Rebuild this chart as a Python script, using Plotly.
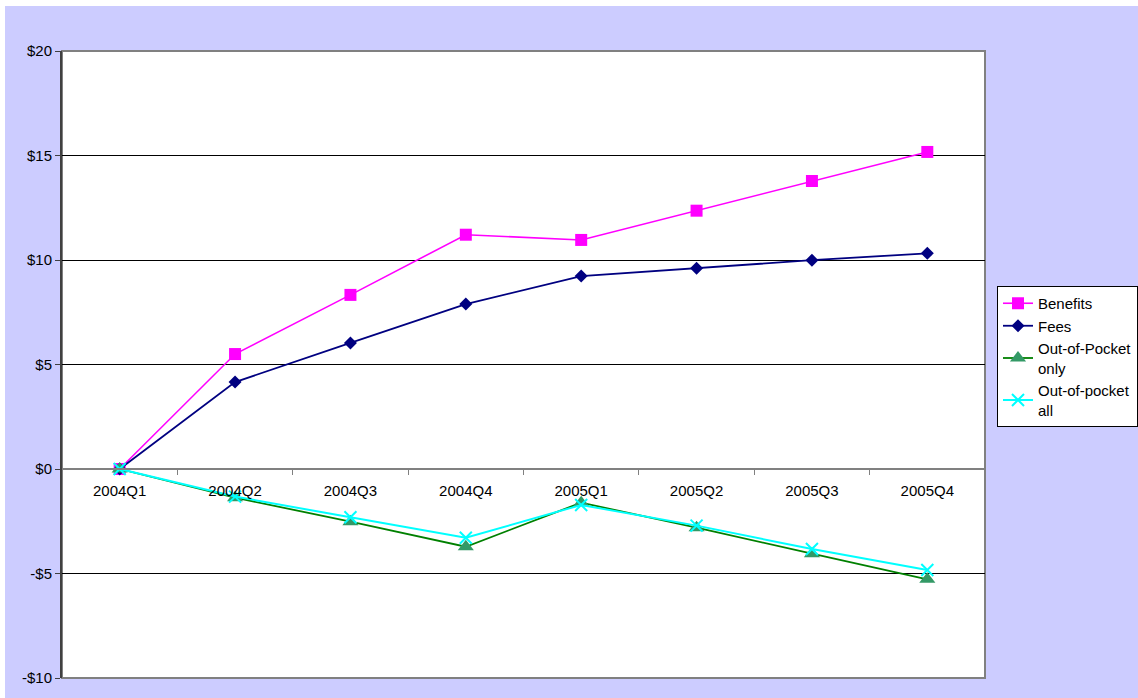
import plotly.graph_objects as go

quarters = ["2004Q1", "2004Q2", "2004Q3", "2004Q4", "2005Q1", "2005Q2", "2005Q3", "2005Q4"]
benefits = [0.0, 5.50, 8.33, 11.21, 10.96, 12.36, 13.78, 15.17]
fees = [0.0, 4.16, 6.03, 7.89, 9.23, 9.60, 9.99, 10.32]
oop_only = [0.0, -1.37, -2.52, -3.72, -1.61, -2.81, -4.05, -5.28]
oop_all = [0.0, -1.32, -2.31, -3.29, -1.72, -2.71, -3.83, -4.83]

y_tickvals = [-10, -5, 0, 5, 10, 15, 20]
y_ticktext = ["-$10", "-$5", "$0", "$5", "$10", "$15", "$20"]

W, H = 1138, 698
L, R, T, B = 62, 985, 51, 678
pw, ph = R - L, B - T


def px(x):
    return (x - L) / pw


def py(y):
    return (B - y) / ph


fig = go.Figure()
fig.add_trace(go.Scatter(x=quarters, y=benefits, name="Benefits", mode="lines+markers",
                         line=dict(color="#FF00FF", width=1.6),
                         marker=dict(symbol="square", size=12, color="#FF00FF")))
fig.add_trace(go.Scatter(x=quarters, y=fees, name="Fees", mode="lines+markers",
                         line=dict(color="#000080", width=1.8),
                         marker=dict(symbol="diamond", size=10, color="#000080")))
fig.add_trace(go.Scatter(x=quarters, y=oop_only, name="Out-of-Pocket<br>only", mode="lines+markers",
                         line=dict(color="#008000", width=1.8),
                         marker=dict(symbol="triangle-up", size=14, color="#339966")))
fig.add_trace(go.Scatter(x=quarters, y=oop_all, name="Out-of-pocket<br>all", mode="lines+markers",
                         line=dict(color="#00FFFF", width=2),
                         marker=dict(symbol="x-thin", size=12, color="#00FFFF",
                                     line=dict(color="#00FFFF", width=2))))

shapes = [
    dict(type="rect", xref="paper", yref="paper", x0=px(5), x1=px(W + 5), y0=py(H + 5), y1=py(6),
         fillcolor="#CCCCFF", line=dict(width=0), layer="below"),
    dict(type="rect", xref="paper", yref="paper", x0=0, x1=1, y0=0, y1=1,
         fillcolor="white", line=dict(color="#808080", width=2), layer="below"),
]
fig.update_layout(
    width=W, height=H,
    margin=dict(l=L, r=W - R, t=T, b=H - B, autoexpand=False),
    paper_bgcolor="white",
    plot_bgcolor="white",
    font=dict(family="Liberation Sans, Arial, sans-serif", size=15, color="black"),
    shapes=shapes,
    showlegend=True,
    legend=dict(x=px(997), y=py(286), xanchor="left", yanchor="top",
                bgcolor="white", bordercolor="black", borderwidth=1,
                font=dict(size=15, color="black"), tracegroupgap=0,
                itemwidth=30),
    xaxis=dict(type="category", range=[-0.5, 7.5], anchor="free", position=py(469),
               showline=True, linecolor="#808080", linewidth=2,
               ticks="outside", tickson="boundaries", ticklen=5, tickcolor="#808080", tickwidth=1,
               ticklabelstandoff=8,
               showgrid=False, zeroline=False, tickfont=dict(size=15)),
    yaxis=dict(range=[-10, 20], tickvals=y_tickvals, ticktext=y_ticktext,
               showline=True, linecolor="#404040", linewidth=2,
               ticks="outside", ticklen=5, tickcolor="#404040",
               showgrid=True, gridcolor="#000000", gridwidth=1,
               zeroline=False, tickfont=dict(size=15)),
)
fig.write_html("out.html")
